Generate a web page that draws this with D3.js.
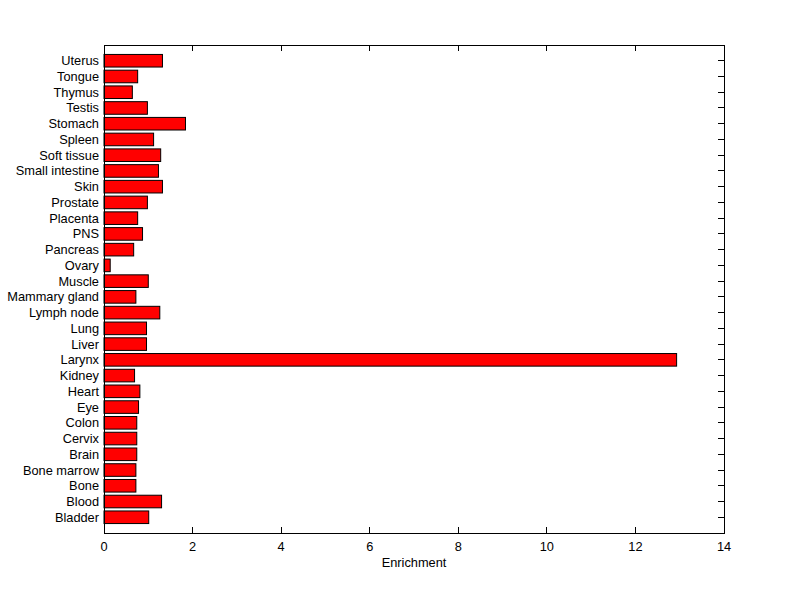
<!DOCTYPE html>
<html><head><meta charset="utf-8">
<script src="https://cdn.jsdelivr.net/npm/d3@7"></script>
<style>body{margin:0;background:#fff}svg{display:block}text{font-family:"Liberation Sans",Arial,sans-serif;font-size:12.8px;fill:#000}</style>
</head><body><svg id="c" width="800" height="599"></svg>
<script>
const categories = ["Bladder","Blood","Bone","Bone marrow","Brain","Cervix","Colon","Eye","Heart","Kidney","Larynx","Liver","Lung","Lymph node","Mammary gland","Muscle","Ovary","Pancreas","PNS","Placenta","Prostate","Skin","Small intestine","Soft tissue","Spleen","Stomach","Testis","Thymus","Tongue","Uterus"];
const values = [1.01,1.30,0.72,0.72,0.74,0.74,0.74,0.78,0.81,0.69,12.93,0.96,0.96,1.26,0.72,1.00,0.14,0.67,0.87,0.76,0.98,1.32,1.23,1.28,1.12,1.84,0.98,0.64,0.76,1.32];
const xTicks = [0,2,4,6,8,10,12,14];
const xLabel = "Enrichment";

const W = 800, H = 599;
const m = {left:104, top:45, right:76, bottom:66};
const svg = d3.select("#c");
const x = d3.scaleLinear().domain([0,14]).range([m.left, W - m.right]);
const y = d3.scaleLinear().domain([0, categories.length + 1]).range([H - m.bottom, m.top]);
const bw = 0.8;
const tl = 6;

const gUnder = svg.append("g").attr("stroke","#000").attr("shape-rendering","crispEdges");
categories.forEach((c,i) => {
  gUnder.append("line").attr("x1", x(0)).attr("x2", x(0)+tl).attr("y1", y(i+1)).attr("y2", y(i+1));
});

// bars
svg.append("g").selectAll("rect").data(values).join("rect")
  .attr("x", x(0))
  .attr("y", (d,i) => y(i + 1 + bw/2))
  .attr("width", d => x(d) - x(0))
  .attr("height", y(0) - y(bw))
  .attr("fill", "#ff0000")
  .attr("stroke", "#000")
  .attr("stroke-width", 1);

// frame
const g = svg.append("g").attr("stroke","#000").attr("stroke-width",1).attr("fill","none").attr("shape-rendering","crispEdges");
g.append("rect").attr("x", x(0)).attr("y", y(categories.length+1)).attr("width", x(14)-x(0)).attr("height", y(0)-y(categories.length+1));

xTicks.forEach(t => {
  g.append("line").attr("x1", x(t)).attr("x2", x(t)).attr("y1", y(0)).attr("y2", y(0)-tl);
  g.append("line").attr("x1", x(t)).attr("x2", x(t)).attr("y1", y(categories.length+1)).attr("y2", y(categories.length+1)+tl);
});
categories.forEach((c,i) => {
  g.append("line").attr("x1", x(14)).attr("x2", x(14)-tl).attr("y1", y(i+1)).attr("y2", y(i+1));
});

svg.append("g").selectAll("text").data(categories).join("text")
  .attr("x", x(0) - 5)
  .attr("y", (d,i) => y(i+1))
  .attr("dy", "0.35em")
  .attr("text-anchor", "end")
  .text(d => d);

svg.append("g").selectAll("text").data(xTicks).join("text")
  .attr("x", d => x(d))
  .attr("y", y(0) + 18)
  .attr("text-anchor", "middle")
  .text(d => d);

svg.append("text").attr("x", (x(0)+x(14))/2).attr("y", y(0) + 34)
  .attr("text-anchor","middle").text(xLabel);
</script></body></html>
